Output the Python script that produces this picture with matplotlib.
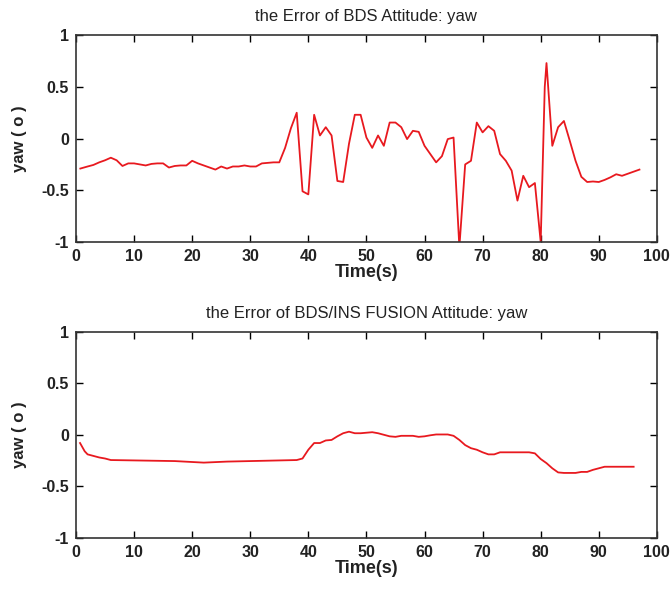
import numpy as np
import matplotlib
matplotlib.use('Agg')
import matplotlib.pyplot as plt

plt.rcParams['font.family'] = ['Liberation Sans', 'DejaVu Sans']

# BDS attitude error (yaw)
t_bds = [0.75, 2, 3, 4, 5, 6, 7, 8, 9, 10, 11, 12, 13, 14, 15, 16, 17, 18, 19, 20,
         21, 22, 23, 24, 25, 26, 27, 28, 29, 30, 31, 32, 33, 34, 35, 36, 37, 38, 39, 40,
         41, 42, 43, 44, 45, 46, 47, 48, 49, 50, 51, 52, 53, 54, 55, 56, 57, 58, 59, 60,
         61, 62, 63, 64, 65, 66, 67, 68, 69, 70, 71, 72, 73, 74, 75, 76, 77, 78, 79, 80,
         80.7, 81, 82, 83, 84, 85, 86, 87, 88, 89, 90, 91, 92, 93, 94, 95, 96, 97]
yaw_bds = [-0.29, -0.27, -0.255, -0.23, -0.21, -0.185, -0.21, -0.265, -0.24, -0.24,
           -0.25, -0.26, -0.245, -0.24, -0.24, -0.28, -0.265, -0.26, -0.26, -0.215,
           -0.24, -0.26, -0.28, -0.30, -0.27, -0.29, -0.27, -0.27, -0.26, -0.27,
           -0.27, -0.24, -0.235, -0.23, -0.23, -0.09, 0.10, 0.25, -0.51, -0.54,
           0.23, 0.03, 0.11, 0.03, -0.41, -0.42, -0.05, 0.23, 0.23, 0.01,
           -0.09, 0.03, -0.07, 0.155, 0.155, 0.11, -0.005, 0.075, 0.065, -0.07,
           -0.15, -0.23, -0.17, -0.005, 0.01, -1.05, -0.25, -0.215, 0.155, 0.06,
           0.12, 0.075, -0.15, -0.215, -0.31, -0.60, -0.36, -0.47, -0.43, -1.0,
           0.5, 0.73, -0.07, 0.11, 0.17, -0.02, -0.215, -0.37, -0.42, -0.415,
           -0.42, -0.40, -0.375, -0.345, -0.36, -0.34, -0.32, -0.30]

# BDS/INS fusion attitude error (yaw)
t_fus = [0.7, 1.5, 2, 3, 4, 5, 6, 17, 22, 26, 34, 38, 39, 40, 41, 42, 43, 44, 45, 46,
         47, 48, 49, 50, 51, 52, 53, 54, 55, 56, 58, 59, 60, 61, 62, 64, 65, 66, 67, 68,
         69, 70, 71, 72, 73, 78, 79, 80, 81, 82, 83, 84, 86, 87, 88, 89, 90, 91, 96]
yaw_fus = [-0.08, -0.16, -0.19, -0.205, -0.22, -0.23, -0.245, -0.255, -0.27, -0.26,
           -0.25, -0.245, -0.23, -0.145, -0.08, -0.08, -0.055, -0.05, -0.015, 0.015,
           0.03, 0.015, 0.015, 0.02, 0.025, 0.015, 0.0, -0.015, -0.02, -0.01,
           -0.01, -0.02, -0.015, -0.005, 0.003, 0.003, -0.01, -0.05, -0.10, -0.13,
           -0.145, -0.17, -0.19, -0.19, -0.17, -0.17, -0.18, -0.235, -0.275, -0.325,
           -0.365, -0.37, -0.37, -0.36, -0.36, -0.34, -0.325, -0.31, -0.31]

titles = ['the Error of BDS Attitude: yaw', 'the Error of BDS/INS FUSION Attitude: yaw']

fig = plt.figure(figsize=(6.7, 5.96), dpi=100)
ax1 = fig.add_axes([0.1134, 0.594, 0.867, 0.347])
ax2 = fig.add_axes([0.1134, 0.0975, 0.867, 0.346])

for ax, t, y, title in [(ax1, t_bds, yaw_bds, titles[0]), (ax2, t_fus, yaw_fus, titles[1])]:
    ax.plot(t, y, color='#e8191f', lw=1.3)
    ax.set_xlim(0, 100)
    ax.set_ylim(-1, 1)
    ax.set_xticks(np.arange(0, 101, 10))
    ax.set_yticks([-1, -0.5, 0, 0.5, 1])
    ax.set_yticklabels(['-1', '-0.5', '0', '0.5', '1'])
    ax.tick_params(direction='in', top=True, right=True, length=5, width=1,
                   labelsize=11.5, pad=5)
    for lab in ax.get_xticklabels() + ax.get_yticklabels():
        lab.set_fontweight('bold')
        lab.set_color('#222222')
    for sp in ax.spines.values():
        sp.set_linewidth(1.2)
        sp.set_color('#333333')
    ax.set_title(title, fontsize=12, pad=10, color='#222222')
    ax.set_xlabel('Time(s)', fontsize=13, fontweight='bold', labelpad=0, color='#222222')
    ax.set_ylabel('yaw ( o )', fontsize=12, fontweight='bold', labelpad=10, color='#222222')

fig.savefig('out.png', dpi=100)
